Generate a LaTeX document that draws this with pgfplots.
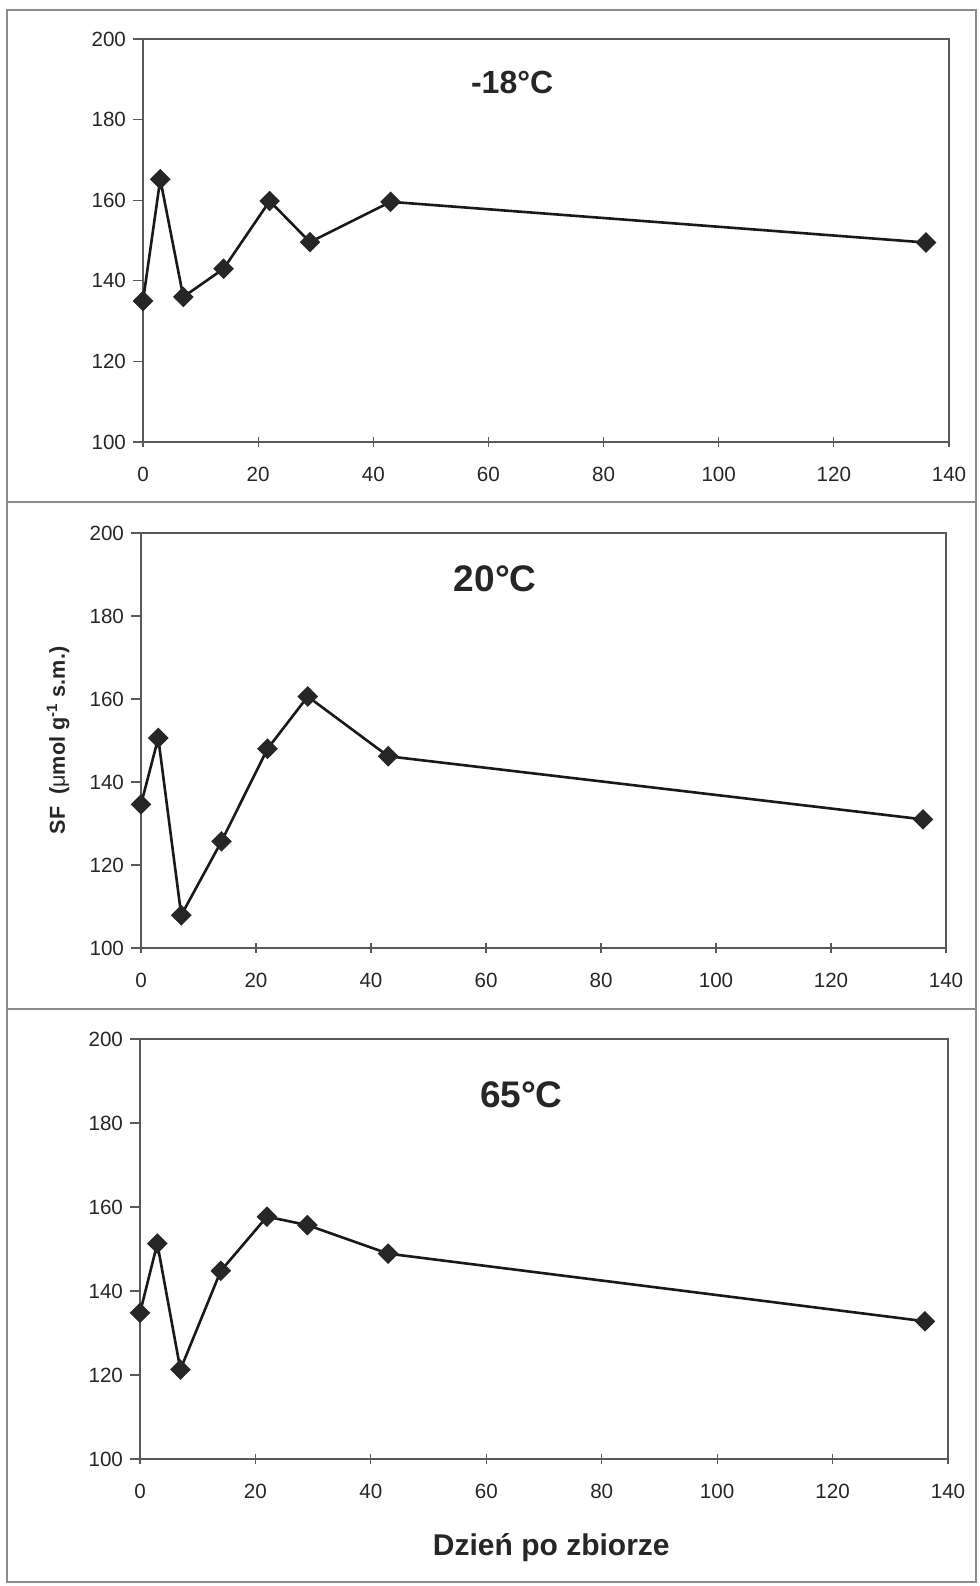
\documentclass[border=0pt]{standalone}
\usepackage{pgfplots}
\pgfplotsset{compat=1.18}
\usepackage{fontspec}
\setmainfont{Liberation Sans}

\definecolor{framegray}{gray}{0.35}
\definecolor{pagegray}{gray}{0.55}

\pgfplotsset{
  panel/.style={
    scale only axis,
    anchor=south west,
    xmin=0, xmax=140, ymin=100, ymax=200,
    xtick={0,20,...,140}, ytick={100,120,...,200},
    tick pos=left,
    axis line style={draw=framegray, line width=1pt},
    every tick/.style={draw=framegray, line width=0.6pt},
    major tick length=5pt,
    xtick align=center, ytick align=outside,
    tick label style={font=\fontsize{10.3}{12}\selectfont, text=black!85},
    xticklabel style={yshift=-6.5pt},
    /pgf/number format/assume math mode=true,
    clip=false,
  },
  sfline/.style={
    black!90, line width=1.3pt,
    mark=square*, mark size=3pt,
    mark options={rotate=45, solid, fill=black!85, draw=black!85},
  },
}
\tikzset{paneltitle/.style={font=\bfseries\fontsize{16}{19}\selectfont, text=black!85}}

\begin{document}
\begin{tikzpicture}
\useasboundingbox (0pt,0pt) rectangle (490pt,-793pt);

% page frame and panel separators
\draw[pagegray, line width=0.6pt] (3.5pt,-5pt) rectangle (488pt,-791pt);
\draw[pagegray, line width=0.6pt] (3.5pt,-251pt) -- (488pt,-251pt);
\draw[pagegray, line width=0.6pt] (3.5pt,-504.5pt) -- (488pt,-504.5pt);

% -18 C
\begin{axis}[panel, at={(71.5pt,-221pt)}, width=403pt, height=201.5pt]
\addplot[sfline] coordinates {
  (0,135.0) (3,165.2) (7,136.0) (14,143.0) (22,159.8) (29,149.6) (43,159.6) (136,149.5)
};
\node[paneltitle] at (rel axis cs:0.458,0.893) {-18°C};
\end{axis}

% 20 C
\begin{axis}[panel, at={(70.5pt,-474pt)}, width=402.5pt, height=207.5pt,
  ylabel={SF\ \ ({\mdseries μ}mol g\textsuperscript{-1} s.m.)},
  ylabel style={at={(axis description cs:-0.103,0.5)}, anchor=center,
    font=\bfseries\fontsize{10.8}{13}\selectfont, text=black!85}]
\addplot[sfline] coordinates {
  (0,134.6) (3,150.6) (7,107.9) (14,125.7) (22,148.0) (29,160.6) (43,146.2) (136,131.0)
};
\node[paneltitle, font=\bfseries\fontsize{18.5}{22}\selectfont] at (rel axis cs:0.44,0.89) {20°C};
\end{axis}

% 65 C
\begin{axis}[panel, at={(70pt,-729.5pt)}, width=404pt, height=210pt,
  xlabel={Dzień po zbiorze},
  xlabel style={at={(axis description cs:0.509,-0.21)}, anchor=center,
    font=\bfseries\fontsize{15}{18}\selectfont, text=black!85}]
\addplot[sfline] coordinates {
  (0,134.8) (3,151.3) (7,121.3) (14,144.8) (22,157.7) (29,155.7) (43,148.9) (136,132.8)
};
\node[paneltitle, font=\bfseries\fontsize{18.5}{22}\selectfont] at (rel axis cs:0.472,0.867) {65°C};
\end{axis}
\end{tikzpicture}
\end{document}
